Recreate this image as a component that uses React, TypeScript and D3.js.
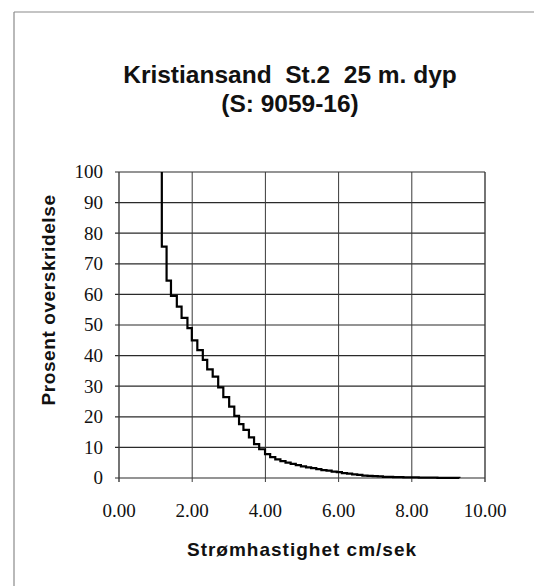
import React from "react";
import * as d3 from "d3";

const titleLines = ["Kristiansand  St.2  25 m. dyp", "(S: 9059-16)"];
const xTitle = "Strømhastighet cm/sek";
const yTitle = "Prosent overskridelse";
const xTicks = [0, 2, 4, 6, 8, 10];
const yTicks = [0, 10, 20, 30, 40, 50, 60, 70, 80, 90, 100];

// bin start speed (cm/s) and exceedance percent on that bin
const speeds = [
  1.17, 1.17, 1.30, 1.42, 1.58, 1.71, 1.87, 1.99, 2.14, 2.29, 2.41, 2.56, 2.71,
  2.85, 3.01, 3.15, 3.28, 3.40, 3.55, 3.69, 3.83, 3.99, 4.13, 4.27, 4.41, 4.55,
  4.69, 4.83, 4.97, 5.11, 5.25, 5.39, 5.53, 5.67, 5.81, 5.95, 6.09, 6.23, 6.37,
  6.51, 6.65, 6.79, 6.93, 7.07, 7.21, 7.35, 7.49, 7.63, 7.77, 7.91, 8.05, 8.19,
  8.40, 8.70, 9.30,
];
const exceed = [
  100, 75.6, 64.5, 59.5, 56.0, 52.3, 49.0, 45.0, 41.8, 38.6, 35.5, 33.1, 29.6,
  26.4, 23.3, 20.3, 17.6, 15.7, 13.3, 11.1, 9.4, 7.8, 6.8, 6.1, 5.5, 5.0,
  4.6, 4.2, 3.8, 3.5, 3.2, 2.9, 2.6, 2.4, 2.1, 1.9, 1.6, 1.4, 1.2,
  1.0, 0.8, 0.7, 0.6, 0.5, 0.4, 0.4, 0.3, 0.3, 0.2, 0.2, 0.2, 0.1,
  0.1, 0.05, 0,
];

const W = 534;
const H = 586;
const M = { left: 119, right: 485, top: 172, bottom: 478 };

export default function App() {
  const x = d3.scaleLinear().domain([0, 10]).range([M.left, M.right]);
  const y = d3.scaleLinear().domain([0, 100]).range([M.bottom, M.top]);
  const pts: [number, number][] = speeds.map((s, i) => [s, exceed[i]]);
  const line = d3
    .line<[number, number]>()
    .x((d) => x(d[0]))
    .y((d) => y(d[1]))
    .curve(d3.curveStepAfter);

  const sans = "'Liberation Sans', Arial, sans-serif";
  const serif = "'Liberation Serif', 'Times New Roman', serif";

  return (
    <svg
      width={W}
      height={H}
      style={{ position: "absolute", left: 0, top: 0, background: "#fff" }}
    >
      <rect x={0} y={0} width={W} height={H} fill="#fff" />
      {/* outer frame */}
      <line x1={14} y1={12} x2={W} y2={12} stroke="#8a8a8a" strokeWidth={1.2} />
      <line x1={14} y1={12} x2={14} y2={H} stroke="#8a8a8a" strokeWidth={1.2} />

      {/* title */}
      {titleLines.map((t, i) => (
        <text
          key={i}
          x={290}
          y={83 + i * 29}
          textAnchor="middle"
          fontFamily={sans}
          fontWeight="bold"
          fontSize={24.5}
          fill="#111"
          style={{ whiteSpace: "pre" }}
        >
          {t}
        </text>
      ))}

      {/* grid */}
      {yTicks.map((t) => (
        <line
          key={"gy" + t}
          x1={M.left - 4}
          x2={M.right}
          y1={y(t)}
          y2={y(t)}
          stroke="#2a2a2a"
          strokeWidth={1.2}
        />
      ))}
      {xTicks.map((t) => (
        <line
          key={"gx" + t}
          x1={x(t)}
          x2={x(t)}
          y1={M.top}
          y2={M.bottom + 4}
          stroke="#3a3a3a"
          strokeWidth={t === 0 || t === 10 ? 1.4 : 1}
        />
      ))}

      {/* curve */}
      <path d={line(pts) || ""} fill="none" stroke="#000" strokeWidth={2.2} />

      {/* y tick labels */}
      {yTicks.map((t) => (
        <text
          key={"ly" + t}
          x={103}
          y={y(t)}
          dy="0.34em"
          textAnchor="end"
          fontFamily={serif}
          fontSize={19}
          fill="#111"
        >
          {t}
        </text>
      ))}
      {/* x tick labels */}
      {xTicks.map((t) => (
        <text
          key={"lx" + t}
          x={x(t)}
          y={517}
          textAnchor="middle"
          fontFamily={serif}
          fontSize={19}
          fill="#111"
        >
          {d3.format(".2f")(t)}
        </text>
      ))}

      {/* axis titles */}
      <text
        x={302}
        y={556}
        textAnchor="middle"
        fontFamily={sans}
        fontWeight="bold"
        fontSize={19}
        letterSpacing={1}
        fill="#111"
      >
        {xTitle}
      </text>
      <text
        transform={`translate(55,${300}) rotate(-90)`}
        textAnchor="middle"
        fontFamily={sans}
        fontWeight="bold"
        fontSize={19}
        letterSpacing={0.6}
        fill="#111"
      >
        {yTitle}
      </text>
    </svg>
  );
}
